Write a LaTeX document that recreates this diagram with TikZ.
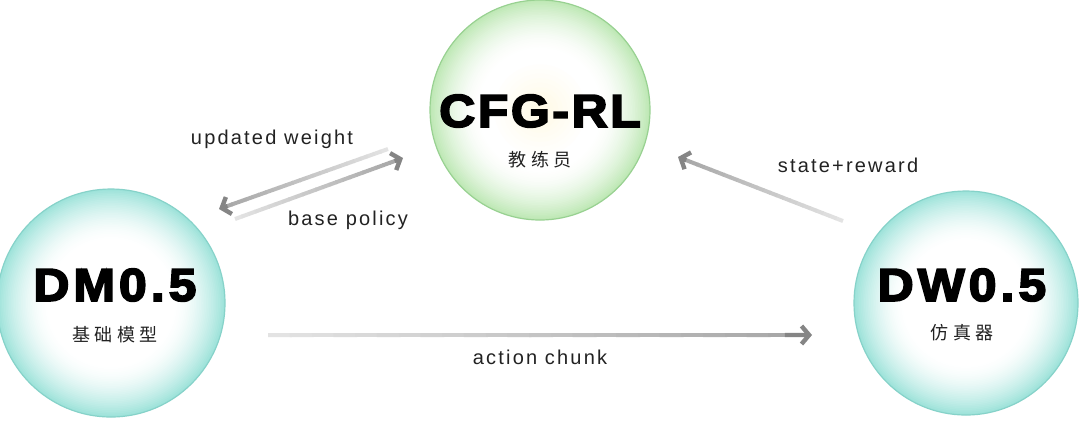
\documentclass[tikz,border=0pt]{standalone}
\usepackage{fontspec}
\usetikzlibrary{positioning,calc,arrows.meta}

\definecolor{tealrim}{HTML}{9EE3DA}
\definecolor{tealline}{HTML}{86D2C9}
\definecolor{greenrim}{HTML}{BEE8B5}
\definecolor{greenline}{HTML}{98D191}
\definecolor{cream}{HTML}{FFFAE6}
\definecolor{ink}{HTML}{222222}

\newfontfamily\labelfont[LetterSpace=11]{Liberation Sans}
\newfontfamily\titlefont[FakeBold=4,FakeStretch=1.08,LetterSpace=6]{Liberation Sans}
\newfontfamily\cjkfont[LetterSpace=25]{Noto Sans CJK SC}

\tikzset{
  modelball/.style={circle, minimum size=#1, inner sep=0pt, draw=tealline, line width=0.6pt},
  coachball/.style={circle, minimum size=#1, inner sep=0pt, draw=greenline, line width=0.6pt},
  title/.style={inner sep=0pt, text=black, font=\titlefont\bfseries\fontsize{23}{25}\selectfont},
  widetitle/.style={title, font=\titlefont\bfseries\fontsize{23}{25}\selectfont\addfontfeature{LetterSpace=9}},
  subtitle/.style={inner sep=0pt, text=ink, font=\cjkfont\fontsize{9}{11}\selectfont},
  flowlabel/.style={inner sep=0pt, text=ink, font=\labelfont\fontsize{10}{12}\selectfont},
  shaft/.style={line width=2pt},
  barbhead/.style={line width=2.2pt, draw=black!48, -{Straight Barb[length=3.8pt,width=9pt]}}
}

% soft rim: rings from the edge colour to white
\newcommand{\glowfill}[3]{%
  \foreach \k in {0,...,30}{%
    \pgfmathsetmacro{\rr}{#3*(1-0.45*\k/30)}
    \pgfmathsetmacro{\pp}{100*(1-\k/30)^1.7}
    \fill[#2!\pp!white] (#1) circle[radius=\rr pt];
  }
}

% gray arrow that darkens towards its head
\newcommand{\fadearrow}[2]{%
  \foreach \i in {0,...,23}{%
    \pgfmathsetmacro{\tone}{11+\i}
    \pgfmathsetmacro{\fa}{0.96*\i/24}
    \pgfmathsetmacro{\fb}{0.96*(\i+1)/24+0.004}
    \draw[shaft, draw=black!\tone] ($(#1)!\fa!(#2)$) -- ($(#1)!\fb!(#2)$);
  }
  \draw[barbhead] ($(#1)!0.95!(#2)$) -- (#2);
}

\begin{document}
\begin{tikzpicture}[x=0.5pt, y=-0.5pt]
  \useasboundingbox (0,0) rectangle (1080,420);
  \fill[white] (0,0) rectangle (1080,420);

  \coordinate (coachc) at (540,110);
  \coordinate (modelc) at (111,303);
  \coordinate (worldc) at (966,303);

  % glow inside the balls
  \glowfill{coachc}{greenrim}{55}
  \foreach \k in {0,...,10}{%
    \pgfmathsetmacro{\rr}{25*(1-\k/11)}
    \pgfmathsetmacro{\pp}{10*\k}
    \fill[cream!\pp!white] (coachc) circle[radius=\rr pt];
  }
  \glowfill{modelc}{tealrim}{57}
  \glowfill{worldc}{tealrim}{56}

  % the three parts
  \node[coachball=110pt] (coach) at (coachc) {};
  \node[modelball=114pt] (model) at (modelc) {};
  \node[modelball=112pt] (world) at (worldc) {};

  \node[title] (coachname) at ([yshift=-0.5pt]coach.center) {CFG-RL};
  \node[subtitle] (coachrole) at ([yshift=-25pt]coach.center) {教练员};
  \node[widetitle] (modelname) at ([xshift=2pt,yshift=9pt]model.center) {DM0.5};
  \node[subtitle] (modelrole) at ([xshift=2pt,yshift=-16pt]model.center) {基础模型};
  \node[widetitle] (worldname) at ([xshift=-2pt,yshift=9pt]world.center) {DW0.5};
  \node[subtitle] (worldrole) at ([xshift=-2pt,yshift=-15pt]world.center) {仿真器};

  % arrow ends
  \coordinate (uw-s) at (388,149);
  \coordinate (uw-e) at (219,209);
  \coordinate (bp-s) at (235,219);
  \coordinate (bp-e) at (403,158);
  \coordinate (sr-s) at (843,221);
  \coordinate (sr-e) at (678,157);
  \coordinate (ac-s) at (268,335);
  \coordinate (ac-e) at (812,335);

  \fadearrow{uw-s}{uw-e}
  \fadearrow{bp-s}{bp-e}
  \fadearrow{sr-s}{sr-e}
  \fadearrow{ac-s}{ac-e}

  \node[flowlabel] (uwlabel) at (272,139) {updated weight};
  \node[flowlabel] (bplabel) at (348,220) {base policy};
  \node[flowlabel] (srlabel) at (848,165) {state+reward};
  \node[flowlabel] (aclabel) at (540,357) {action chunk};
\end{tikzpicture}
\end{document}
